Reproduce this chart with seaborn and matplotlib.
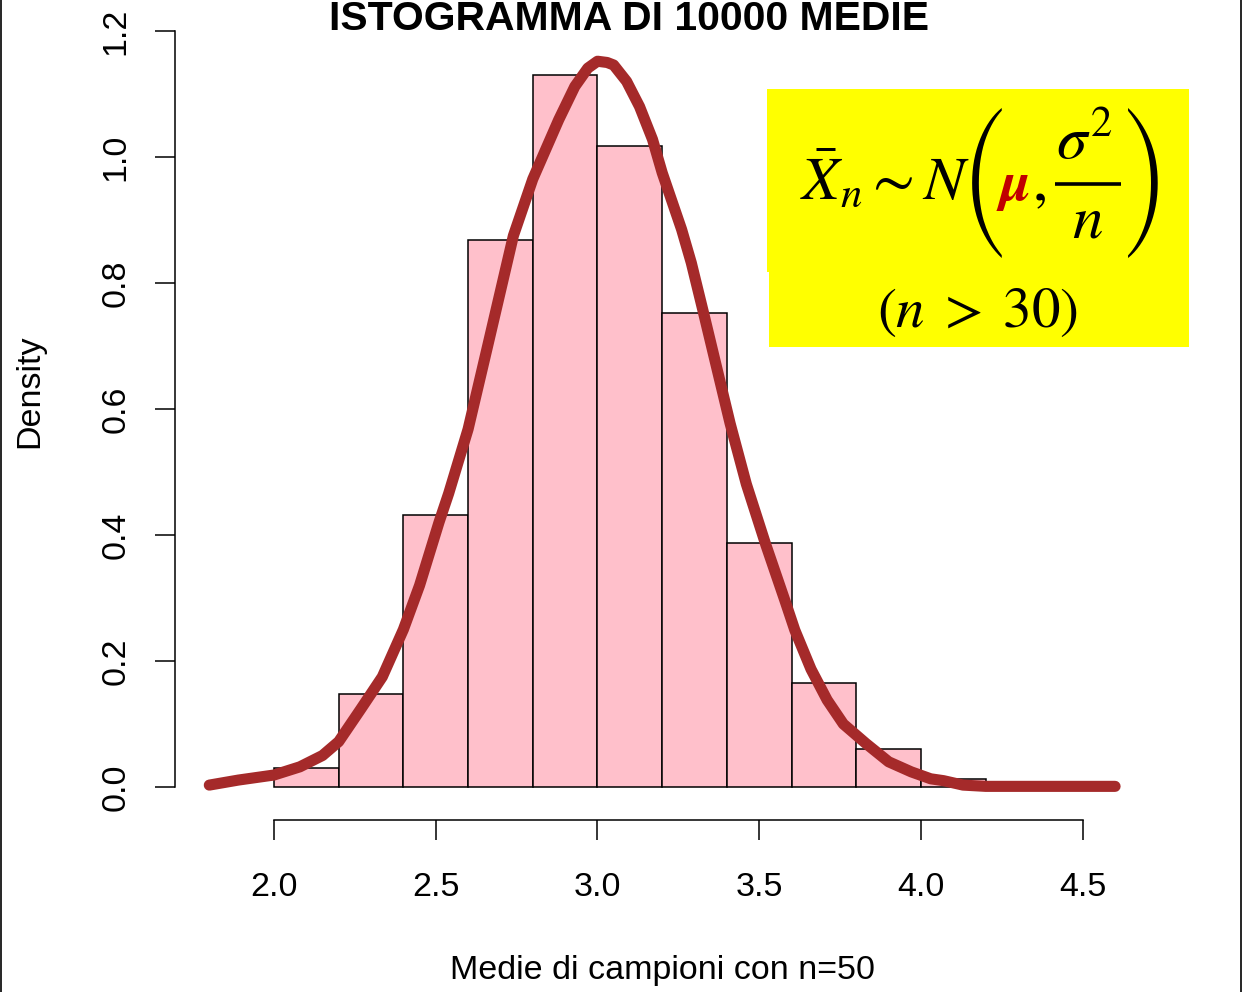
import matplotlib
matplotlib.use("Agg")
import matplotlib.pyplot as plt
import seaborn as sns
from matplotlib.patches import Rectangle

# Histogram of 10000 sample means (n = 50): bin edges and density per bin
bin_edges = [2.0, 2.2, 2.4, 2.6, 2.8, 3.0, 3.2, 3.4, 3.6, 3.8, 4.0, 4.2]
bar_density = [0.030, 0.148, 0.432, 0.868, 1.130, 1.018, 0.752, 0.387, 0.165, 0.060, 0.013]

# Estimated density curve of the means
curve_x = [1.80, 1.89, 2.00, 2.08, 2.15, 2.20, 2.27, 2.335, 2.40, 2.45, 2.51,
           2.54, 2.60, 2.66, 2.74, 2.80, 2.88, 2.93, 2.97, 3.00, 3.03, 3.05, 3.09,
           3.13, 3.17, 3.20, 3.26, 3.29, 3.33, 3.41, 3.46, 3.52, 3.58, 3.61, 3.66,
           3.71, 3.76, 3.83, 3.90, 3.97, 4.03, 4.07, 4.13, 4.20, 4.60]
curve_y = [0.003, 0.011, 0.019, 0.032, 0.050, 0.072, 0.125, 0.175, 0.250, 0.320, 0.420,
           0.466, 0.568, 0.699, 0.875, 0.965, 1.059, 1.112, 1.141, 1.152, 1.150, 1.146, 1.120,
           1.080, 1.028, 0.975, 0.885, 0.832, 0.748, 0.577, 0.481, 0.385, 0.295, 0.249, 0.187,
           0.138, 0.100, 0.069, 0.040, 0.024, 0.013, 0.010, 0.003, 0.001, 0.001]

x_ticks = [2.0, 2.5, 3.0, 3.5, 4.0, 4.5]
y_ticks = [0.0, 0.2, 0.4, 0.6, 0.8, 1.0, 1.2]

title_text = "ISTOGRAMMA DI 10000 MEDIE"
x_label = "Medie di campioni con n=50"
y_label = "Density"

sns.set_theme(style="white")
plt.rcParams["font.family"] = ["Liberation Sans", "DejaVu Sans"]
plt.rcParams["mathtext.fontset"] = "stix"

W, H = 1242, 992
fig = plt.figure(figsize=(W / 100, H / 100), dpi=100)
fig.patch.set_facecolor("white")


def fx(px):
    return px / W


def fy(py):
    return 1 - py / H


ax = fig.add_axes([fx(175), fy(820), fx(1151) - fx(175), fy(0.5) - fy(820)])
ax.set_facecolor("white")

centers = [(a + b) / 2 for a, b in zip(bin_edges[:-1], bin_edges[1:])]
sns.histplot(x=centers, weights=bar_density, bins=bin_edges, stat="count",
             color="#FFC0CB", edgecolor="black", linewidth=1.1, alpha=1, ax=ax)
sns.lineplot(x=curve_x, y=curve_y, color="#A52A2A", linewidth=8, ax=ax,
             solid_capstyle="round", solid_joinstyle="round")

ax.set_xlim(1.694, 4.711)
ax.set_ylim(-0.0524, 1.2484)
ax.set_xlabel("")
ax.set_ylabel("")

for side in ("top", "right"):
    ax.spines[side].set_visible(False)
for side in ("left", "bottom"):
    ax.spines[side].set_color("black")
    ax.spines[side].set_linewidth(1.1)
ax.spines["left"].set_bounds(0, 1.2)
ax.spines["bottom"].set_bounds(2.0, 4.5)

ax.set_xticks(x_ticks)
ax.set_xticklabels([f"{v:.1f}" for v in x_ticks])
ax.set_yticks(y_ticks)
ax.set_yticklabels([f"{v:.1f}" for v in y_ticks], rotation=90, va="center")
ax.tick_params(axis="both", which="major", direction="out", length=14.4, width=1.1,
               colors="black", labelsize=24.5, bottom=True, left=True)
ax.tick_params(axis="x", pad=23)
ax.tick_params(axis="y", pad=17)

fig.text(fx(629), fy(30), title_text, ha="center", va="baseline",
         fontsize=29.4, fontweight="bold", color="black")
fig.text(fx(663), fy(970), x_label, ha="center", va="center", fontsize=24.5, color="black")
fig.text(fx(30), fy(391), y_label, ha="center", va="center", rotation=90,
         fontsize=24.5, color="black")

# overlay in pixel coordinates for the formula box and the frame
ov = fig.add_axes([0, 0, 1, 1], zorder=5)
ov.set_xlim(0, W)
ov.set_ylim(H, 0)
ov.axis("off")
ov.patch.set_alpha(0)

ov.add_patch(Rectangle((767, 89), 1189 - 767, 272 - 89, facecolor="#FFFF00", edgecolor="none"))
ov.add_patch(Rectangle((769, 271), 1189 - 769, 347 - 271, facecolor="#FFFF00", edgecolor="none"))

# sampling distribution of the mean, built piece by piece
fs = 44
ov.text(800, 200, r"$\bar{X}_n{\sim}N$", ha="left", va="baseline", fontsize=fs, color="black")
ov.text(961, 183, "(", family="STIXSizeThreeSym", ha="left", va="center", fontsize=fs, color="black")
ov.text(1001, 200, "μ", family="STIXGeneral", fontweight="bold", fontstyle="italic",
        ha="left", va="baseline", fontsize=fs - 3, color="#C00000")
ov.text(1033, 200, ",", family="STIXGeneral", ha="left", va="baseline", fontsize=fs, color="black")
ov.text(1056, 159, r"$\sigma^2$", ha="left", va="baseline", fontsize=fs, color="black")
ov.plot([1055, 1121], [184, 184], color="black", lw=2.6, solid_capstyle="butt")
ov.text(1087, 237, r"$n$", ha="center", va="baseline", fontsize=fs, color="black")
ov.text(1123, 183, ")", family="STIXSizeThreeSym", ha="left", va="center", fontsize=fs, color="black")
ov.text(978, 327, r"$(n\;>\;30)$", ha="center", va="baseline", fontsize=41, color="black")

ov.plot([1, 1], [0, H], color="black", lw=1.2)
ov.plot([1240.5, 1240.5], [0, H], color="black", lw=1.2)

fig.savefig("out.png", dpi=100, facecolor="white")
